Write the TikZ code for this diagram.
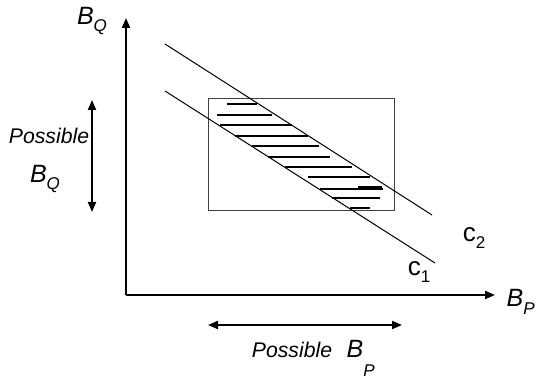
\documentclass[tikz,border=0pt]{standalone}
\usepackage{fontspec}
\setmainfont{Liberation Sans}
\usetikzlibrary{arrows.meta, positioning}
\newcommand{\lowsub}[1]{\raisebox{-0.55ex}{\fontsize{8.5}{9}\selectfont #1}}

\begin{document}
\begin{tikzpicture}[x=0.5pt, y=-0.5pt,
    axis/.style={line width=1pt, -{Triangle[length=5pt, width=4pt]}},
    spanarrow/.style={line width=1pt, {Triangle[length=5pt, width=4pt]}-{Triangle[length=5pt, width=4pt]}},
    budget/.style={line width=0.5pt},
    hatch/.style={line width=1.4pt},
    sym/.style={font=\fontsize{12.5}{14}\selectfont\itshape, inner sep=0pt},
    lbl/.style={font=\fontsize{10.6}{12}\selectfont\itshape, inner sep=0pt}]
                \useasboundingbox (0,0) rectangle (536,379);

                % Axes
                \coordinate (O) at (126,295);
                \coordinate (ytip) at (126,18);
                \coordinate (xtip) at (495,295);
                \draw[axis] (O) -- (ytip);
                \draw[axis] (O) -- (xtip);
                \node[sym] (bq) at (92,21) {B\lowsub{Q}};
                \node[sym, anchor=east] (bp) at (535,302) {B\lowsub{P}};

                % Range of possible values
                \coordinate (qtop) at (92,100);
                \coordinate (qbot) at (92,212);
                \draw[spanarrow] (qbot) -- (qtop);
                \node[lbl] (possq) at (49,136) {Possible};
                \node[sym] (bqq) at (45,179) {B\lowsub{Q}};

                \coordinate (pleft) at (208,325);
                \coordinate (pright) at (402,325);
                \draw[spanarrow] (pleft) -- (pright);
                \node[lbl] (possp) at (292,350) {Possible};
                \node[lbl, font=\fontsize{12.5}{14}\selectfont\itshape] (bpp) at (355,349) {B};
                \node[lbl, font=\fontsize{8.5}{9}\selectfont\itshape] (pp) at (369,371) {P};

                % Box of possible budgets
                \draw[budget, black!75] (208,99) rectangle (394,211);

                % Lines c1 and c2
                \coordinate (c2a) at (165,44);
                \coordinate (c2b) at (432,215);
                \coordinate (c1a) at (165,91);
                \coordinate (c1b) at (435,263);
                \draw[budget] (c2a) -- (c2b);
                \draw[budget] (c1a) -- (c1b);
                \node[sym, font=\fontsize{13}{14}\selectfont] (ctwo) at (474,238) {c\lowsub{2}};
                \node[sym, font=\fontsize{13}{14}\selectfont] (cone) at (419,272) {c\lowsub{1}};

                % Hatching
                \foreach \y/\xa/\xb in {104/227/257, 115/217/272, 125/220/292, 136/235/308,
                    146/252/319, 157/268/330, 167/285/352, 177/308/370, 189/320/383,
                    198/332/380, 208/350/370}
                    \draw[hatch] (\xa,\y) -- (\xb,\y);
                \draw[line width=2.4pt] (358,188) -- (382,188);
            \end{tikzpicture}
\end{document}
